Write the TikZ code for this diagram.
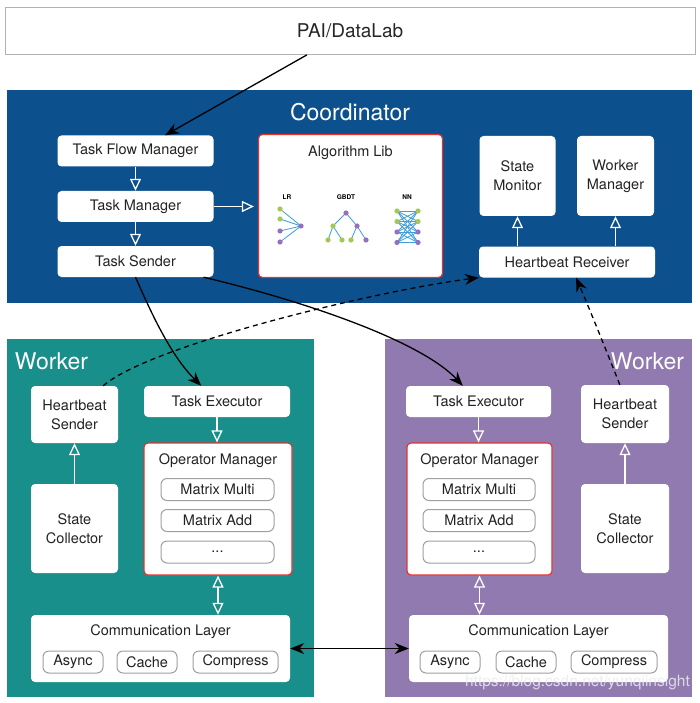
\documentclass[tikz,border=0pt]{standalone}
\usepackage{fontspec}
\setmainfont{TeX Gyre Heros}
\usetikzlibrary{arrows.meta}
\definecolor{coordblue}{RGB}{12,80,142}
\definecolor{lworker}{RGB}{24,143,138}
\definecolor{rworker}{RGB}{144,122,176}
\definecolor{libred}{RGB}{228,52,46}
\definecolor{txtgray}{RGB}{35,35,35}
\definecolor{dotgreen}{RGB}{165,200,85}
\definecolor{dotpurple}{RGB}{150,112,190}
\definecolor{nnblue}{RGB}{60,158,220}
\begin{document}
\begin{tikzpicture}[x=1pt,y=-1pt,
  box/.style={fill=white,rounded corners=4pt,inner sep=0pt,align=center,text=txtgray,font=\fontsize{14.5}{19}\selectfont},
  redbox/.style={box,draw=libred,line width=1.2pt},
  opbox/.style={box,draw=gray!75,line width=1pt,rounded corners=6pt,minimum height=22pt},
  panel/.style={inner sep=0pt},
  ptitle/.style={text=white,font=\fontsize{23}{26}\selectfont,inner sep=0pt},
  hollow/.style={draw=white,line width=1.3pt,-{Triangle[open,length=12pt,width=11pt]}},
  hollow2/.style={draw=white,line width=1.3pt,{Triangle[open,length=12pt,width=11pt]}-{Triangle[open,length=12pt,width=11pt]}},
  link/.style={draw=black,line width=1.3pt,-{Stealth[length=14pt,width=11pt]}},
  hbline/.style={link,dash pattern=on 5pt off 4pt},
  icnline/.style={draw=nnblue,line width=0.8pt},
  icnlabel/.style={inner sep=0pt,font=\fontsize{6.5}{7}\bfseries\selectfont}]
\useasboundingbox (0,0) rectangle (700,703);
\node[box,draw=gray!60,line width=0.8pt,rounded corners=0pt,text=black!85,font=\fontsize{19}{22}\selectfont,minimum width=690pt,minimum height=47pt] (pai) at (350,31) {PAI/DataLab};
% coordinator
\node[panel,fill=coordblue,minimum width=685pt,minimum height=212pt] (coord) at (349.5,196.5) {};
\node[ptitle] (coordtitle) at (350,112) {Coordinator};
\node[box,minimum width=156pt,minimum height=31pt] (tfm) at (135.5,151) {Task Flow Manager};
\node[box,minimum width=156pt,minimum height=31pt] (tm) at (135.5,206.5) {Task Manager};
\node[box,minimum width=156pt,minimum height=31pt] (ts) at (135.5,261.5) {Task Sender};
\node[redbox,minimum width=184pt,minimum height=143pt] (alglib) at (350.5,206) {};
\node[box,fill=none] (algtitle) at (350.5,153) {Algorithm Lib};
\node[box,minimum width=76pt,minimum height=80pt] (smon) at (517.5,176) {State\\Monitor};
\node[box,minimum width=77pt,minimum height=80pt] (wman) at (615.5,176) {Worker\\Manager};
\node[box,minimum width=176pt,minimum height=31pt] (hbr) at (567,262) {Heartbeat Receiver};
% algorithm icons
\node[icnlabel] (lrlabel) at (287,197) {LR};
\node[icnlabel] (gbdtlabel) at (346,197) {GBDT};
\node[icnlabel] (nnlabel) at (407,197) {NN};
\foreach \y in {209,219,231,242}
\draw[icnline] (280,\y)--(301,226);
\foreach \y/\c in {209/dotgreen,219/dotgreen,231/dotpurple,242/dotpurple}
\fill[\c] (280,\y) circle (2.6pt);
\fill[dotpurple] (301,226) circle (2.6pt);
\draw[icnline] (333,226)--(346,213)--(357,226);
\draw[icnline] (328,240)--(333,226)--(342,240);
\draw[icnline] (351,240)--(357,226)--(366,240);
\fill[dotpurple] (346,213) circle (2.6pt);
\fill[dotgreen] (333,226) circle (2.6pt);
\fill[dotpurple] (357,226) circle (2.6pt);
\foreach \x/\c in {328/dotgreen,342/dotgreen,351/dotgreen,366/dotpurple}
\fill[\c] (\x,240) circle (2.6pt);
\foreach \a in {211,221.5,232,242.5}
\foreach \b in {211,221.5,232,242.5}
\draw[icnline] (397,\a)--(418,\b);
\foreach \y/\c in {211/dotgreen,221.5/dotgreen,232/dotpurple,242.5/dotpurple}
{\fill[\c] (397,\y) circle (2.6pt);
\fill[\c] (418,\y) circle (2.6pt);}
% left worker
\node[panel,fill=lworker,minimum width=307pt,minimum height=358pt] (lw) at (160.5,518) {};
\node[ptitle] (lwtitle) at (51.5,361) {Worker};
\node[box,minimum width=87pt,minimum height=57pt] (lhbs) at (74.5,414.5) {Heartbeat\\Sender};
\node[box,minimum width=146pt,minimum height=31pt] (lte) at (217,401.5) {Task Executor};
\node[redbox,minimum width=148pt,minimum height=132pt] (lom) at (218,509) {};
\node[box,fill=none] (lomtitle) at (218,461) {Operator Manager};
\node[opbox,minimum width=113pt] (lmm) at (217.5,489.5) {Matrix Multi};
\node[opbox,minimum width=113pt] (lma) at (217.5,520.5) {Matrix Add};
\node[opbox,minimum width=113pt] (ldots) at (217.5,552) {...};
\node[box,minimum width=87pt,minimum height=89pt] (lsc) at (74.5,528.5) {State\\Collector};
\node[box,minimum width=259pt,minimum height=67pt] (lcl) at (160.5,648.5) {};
\node[box,fill=none] (lcltitle) at (160.5,632) {Communication Layer};
\node[opbox,minimum width=60pt] (lasync) at (73,662) {Async};
\node[opbox,minimum width=60pt] (lcache) at (147,662) {Cache};
\node[opbox,minimum width=85pt] (lcomp) at (235.5,662) {Compress};
% right worker
\node[panel,fill=rworker,minimum width=307pt,minimum height=358pt] (rw) at (538.5,518) {};
\node[ptitle] (rwtitle) at (647.5,361) {Worker};
\node[box,minimum width=145pt,minimum height=31pt] (rte) at (478.5,401.5) {Task Executor};
\node[redbox,minimum width=145pt,minimum height=132pt] (rom) at (479.5,509) {};
\node[box,fill=none] (romtitle) at (479.5,461) {Operator Manager};
\node[opbox,minimum width=112pt] (rmm) at (479,489.5) {Matrix Multi};
\node[opbox,minimum width=112pt] (rma) at (479,520.5) {Matrix Add};
\node[opbox,minimum width=112pt] (rdots) at (479,552) {...};
\node[box,minimum width=88pt,minimum height=58pt] (rhbs) at (625,414) {Heartbeat\\Sender};
\node[box,minimum width=88pt,minimum height=89pt] (rsc) at (625,528.5) {State\\Collector};
\node[box,minimum width=259pt,minimum height=67pt] (rcl) at (538.5,648.5) {};
\node[box,fill=none] (rcltitle) at (538.5,632) {Communication Layer};
\node[opbox,minimum width=60pt] (rasync) at (450,662) {Async};
\node[opbox,minimum width=60pt] (rcache) at (526,662) {Cache};
\node[opbox,minimum width=86pt] (rcomp) at (614,662) {Compress};
\node[inner sep=0pt,anchor=east,text=gray!15,opacity=.85,font=\fontsize{15.5}{18}\selectfont] (wmark) at (690,683) {https://blog.csdn.net/yunqiinsight};
% hollow arrows
\draw[hollow] (tfm)--(tm);
\draw[hollow] (tm)--(ts);
\draw[hollow] (tm.east)--([xshift=-4pt]tm.east -| alglib.west);
\draw[hollow] (hbr.north -| smon.south)--(smon.south);
\draw[hollow] (hbr.north -| wman.south)--(wman.south);
\draw[hollow] (lte.south)--(lte.south |- lom.north);
\draw[hollow2] (lom.south)--(lom.south |- lcl.north);
\draw[hollow] (lsc)--(lhbs);
\draw[hollow] (rte.south)--(rte.south |- rom.north);
\draw[hollow2] (rom.south)--(rom.south |- rcl.north);
\draw[hollow] (rsc)--(rhbs);
% black links
\draw[link] (pai.-151)--(tfm.28);
\draw[link] (ts.south) .. controls (150,310) and (170,355) .. (lte.135);
\draw[link] (ts.-13) .. controls (300,300) and (420,340) .. (rte.135);
\draw[hbline] (lhbs.45) .. controls (150,345) and (380,290) .. (hbr.south west);
\draw[hbline] (rhbs.100) .. controls (608,355) and (590,310) .. (hbr.-60);
\draw[link,{Stealth[length=14pt,width=11pt]}-{Stealth[length=14pt,width=11pt]}] (lcl.east)--(rcl.west);
\end{tikzpicture}
\end{document}
